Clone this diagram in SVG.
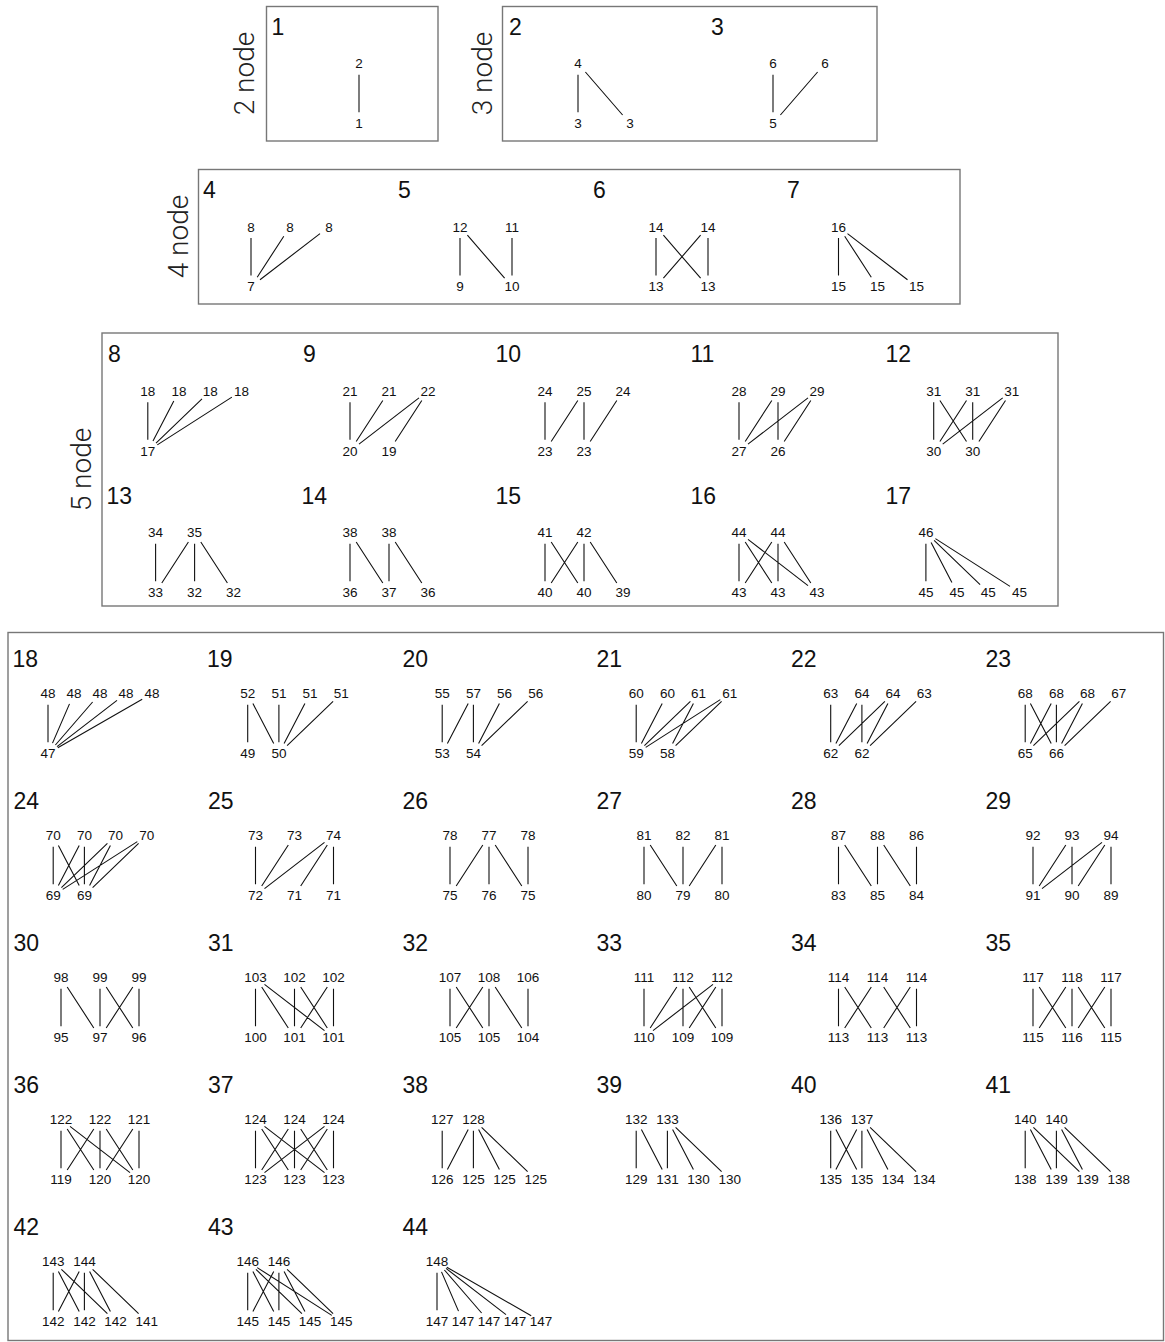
<svg xmlns="http://www.w3.org/2000/svg" width="1165" height="1342" viewBox="0 0 1165 1342">
<style>
.box{fill:none;stroke:#777;stroke-width:1.4}
.e path{fill:none;stroke:#111;stroke-width:1.1}
.h{font-family:"Liberation Sans",Arial,sans-serif;font-size:23px;fill:#111}
.n{font-family:"Liberation Sans",Arial,sans-serif;font-size:13.5px;fill:#111;text-anchor:middle}
.s{font-family:Roboto,"Liberation Sans",sans-serif;font-weight:300;font-size:28px;fill:#222;text-anchor:middle}
</style>
<rect width="1165" height="1342" fill="#fff"/>
<g id="frames">
<rect class="box" x="266.5" y="6.5" width="171.5" height="134.5"/>
<rect class="box" x="502.5" y="6.5" width="374.5" height="134.5"/>
<rect class="box" x="198.5" y="169.5" width="761.5" height="134.5"/>
<rect class="box" x="102" y="333" width="956" height="273"/>
<rect class="box" x="8" y="632.5" width="1155.5" height="708"/>
<text class="s" transform="translate(254,73.5) rotate(-90)">2 node</text>
<text class="s" transform="translate(492,73.5) rotate(-90)">3 node</text>
<text class="s" transform="translate(188,236.5) rotate(-90)">4 node</text>
<text class="s" transform="translate(91,469.5) rotate(-90)">5 node</text>
</g>
<g id="connectors" class="e">
<path transform="translate(359,63.5)" d="M0 11.3V48.7"/>
<path transform="translate(604,63.5)" d="M-26 11.3V48.7M-18.6 8.5L18.6 51.5"/>
<path transform="translate(799,63.5)" d="M-26 11.3V48.7M18.6 8.5L-18.6 51.5"/>
<path transform="translate(290,226.7)" d="M-39 11.3V48.7M-6.2 9.5L-32.8 50.5M30 6.9L-30 53.1"/>
<path transform="translate(486,226.7)" d="M-26 11.3V48.7M-18.6 8.5L18.6 51.5M26 11.3V48.7"/>
<path transform="translate(682,226.7)" d="M-26 11.3V48.7M-18.6 8.5L18.6 51.5M18.6 8.5L-18.6 51.5M26 11.3V48.7"/>
<path transform="translate(877.5,226.7)" d="M-39 11.3V48.7M-32.8 9.5L-6.2 50.5M-30 6.9L30 53.1"/>
<path transform="translate(194.6,391)" d="M-46.8 11.3V48.7M-20.8 10L-41.6 50M7.4 7.8L-38.6 52.2M37.3 6.1L-37.3 53.9"/>
<path transform="translate(389,391)" d="M-39 11.3V48.7M-6.2 9.5L-32.8 50.5M30 6.9L-30 53.1M32.8 9.5L6.2 50.5"/>
<path transform="translate(584,391)" d="M-39 11.3V48.7M-6.2 9.5L-32.8 50.5M0 11.3V48.7M32.8 9.5L6.2 50.5"/>
<path transform="translate(778,391)" d="M-39 11.3V48.7M-6.2 9.5L-32.8 50.5M0 11.3V48.7M30 6.9L-30 53.1M32.8 9.5L6.2 50.5"/>
<path transform="translate(972.7,391)" d="M-39 11.3V48.7M-32.8 9.5L-6.2 50.5M-6.2 9.5L-32.8 50.5M0 11.3V48.7M30 6.9L-30 53.1M32.8 9.5L6.2 50.5"/>
<path transform="translate(194.6,532.5)" d="M-39 11.3V48.7M-6.2 9.5L-32.8 50.5M0 11.3V48.7M6.2 9.5L32.8 50.5"/>
<path transform="translate(389,532.5)" d="M-39 11.3V48.7M-32.8 9.5L-6.2 50.5M0 11.3V48.7M6.2 9.5L32.8 50.5"/>
<path transform="translate(584,532.5)" d="M-39 11.3V48.7M-32.8 9.5L-6.2 50.5M-6.2 9.5L-32.8 50.5M0 11.3V48.7M6.2 9.5L32.8 50.5"/>
<path transform="translate(778,532.5)" d="M-39 11.3V48.7M-32.8 9.5L-6.2 50.5M-30 6.9L30 53.1M-6.2 9.5L-32.8 50.5M0 11.3V48.7M6.2 9.5L32.8 50.5"/>
<path transform="translate(972.7,532.5)" d="M-46.8 11.3V48.7M-41.6 10L-20.8 50M-38.6 7.8L7.4 52.2M-37.3 6.1L37.3 53.9"/>
<path transform="translate(100,693.5)" d="M-52 11.3V48.7M-30.5 10.4L-47.5 49.6M-7.4 8.5L-44.6 51.5M17 6.9L-43 53.1M42.2 5.7L-42.2 54.3"/>
<path transform="translate(294.5,693.5)" d="M-46.8 11.3V48.7M-41.6 10L-20.8 50M-15.6 11.3V48.7M10.4 10L-10.4 50M38.6 7.8L-7.4 52.2"/>
<path transform="translate(489,693.5)" d="M-46.8 11.3V48.7M-20.8 10L-41.6 50M-15.6 11.3V48.7M10.4 10L-10.4 50M38.6 7.8L-7.4 52.2"/>
<path transform="translate(683,693.5)" d="M-46.8 11.3V48.7M-20.8 10L-41.6 50M7.4 7.8L-38.6 52.2M10.4 10L-10.4 50M37.3 6.1L-37.3 53.9M38.6 7.8L-7.4 52.2"/>
<path transform="translate(877.5,693.5)" d="M-46.8 11.3V48.7M-20.8 10L-41.6 50M-15.6 11.3V48.7M7.4 7.8L-38.6 52.2M10.4 10L-10.4 50M38.6 7.8L-7.4 52.2"/>
<path transform="translate(1072,693.5)" d="M-46.8 11.3V48.7M-41.6 10L-20.8 50M-20.8 10L-41.6 50M-15.6 11.3V48.7M7.4 7.8L-38.6 52.2M10.4 10L-10.4 50M38.6 7.8L-7.4 52.2"/>
<path transform="translate(100,835.5)" d="M-46.8 11.3V48.7M-41.6 10L-20.8 50M-20.8 10L-41.6 50M-15.6 11.3V48.7M7.4 7.8L-38.6 52.2M10.4 10L-10.4 50M37.3 6.1L-37.3 53.9M38.6 7.8L-7.4 52.2"/>
<path transform="translate(294.5,835.5)" d="M-39 11.3V48.7M-6.2 9.5L-32.8 50.5M30 6.9L-30 53.1M32.8 9.5L6.2 50.5M39 11.3V48.7"/>
<path transform="translate(489,835.5)" d="M-39 11.3V48.7M-6.2 9.5L-32.8 50.5M0 11.3V48.7M6.2 9.5L32.8 50.5M39 11.3V48.7"/>
<path transform="translate(683,835.5)" d="M-39 11.3V48.7M-32.8 9.5L-6.2 50.5M0 11.3V48.7M32.8 9.5L6.2 50.5M39 11.3V48.7"/>
<path transform="translate(877.5,835.5)" d="M-39 11.3V48.7M-32.8 9.5L-6.2 50.5M0 11.3V48.7M6.2 9.5L32.8 50.5M39 11.3V48.7"/>
<path transform="translate(1072,835.5)" d="M-39 11.3V48.7M-6.2 9.5L-32.8 50.5M0 11.3V48.7M30 6.9L-30 53.1M32.8 9.5L6.2 50.5M39 11.3V48.7"/>
<path transform="translate(100,977.5)" d="M-39 11.3V48.7M-32.8 9.5L-6.2 50.5M0 11.3V48.7M6.2 9.5L32.8 50.5M32.8 9.5L6.2 50.5M39 11.3V48.7"/>
<path transform="translate(294.5,977.5)" d="M-39 11.3V48.7M-32.8 9.5L-6.2 50.5M-30 6.9L30 53.1M0 11.3V48.7M6.2 9.5L32.8 50.5M32.8 9.5L6.2 50.5M39 11.3V48.7"/>
<path transform="translate(489,977.5)" d="M-39 11.3V48.7M-32.8 9.5L-6.2 50.5M-6.2 9.5L-32.8 50.5M0 11.3V48.7M6.2 9.5L32.8 50.5M39 11.3V48.7"/>
<path transform="translate(683,977.5)" d="M-39 11.3V48.7M-6.2 9.5L-32.8 50.5M0 11.3V48.7M6.2 9.5L32.8 50.5M30 6.9L-30 53.1M32.8 9.5L6.2 50.5M39 11.3V48.7"/>
<path transform="translate(877.5,977.5)" d="M-39 11.3V48.7M-32.8 9.5L-6.2 50.5M-6.2 9.5L-32.8 50.5M6.2 9.5L32.8 50.5M32.8 9.5L6.2 50.5M39 11.3V48.7"/>
<path transform="translate(1072,977.5)" d="M-39 11.3V48.7M-32.8 9.5L-6.2 50.5M-6.2 9.5L-32.8 50.5M0 11.3V48.7M6.2 9.5L32.8 50.5M32.8 9.5L6.2 50.5M39 11.3V48.7"/>
<path transform="translate(100,1119.5)" d="M-39 11.3V48.7M-32.8 9.5L-6.2 50.5M-30 6.9L30 53.1M-6.2 9.5L-32.8 50.5M0 11.3V48.7M6.2 9.5L32.8 50.5M32.8 9.5L6.2 50.5M39 11.3V48.7"/>
<path transform="translate(294.5,1119.5)" d="M-39 11.3V48.7M-32.8 9.5L-6.2 50.5M-30 6.9L30 53.1M-6.2 9.5L-32.8 50.5M0 11.3V48.7M6.2 9.5L32.8 50.5M30 6.9L-30 53.1M32.8 9.5L6.2 50.5M39 11.3V48.7"/>
<path transform="translate(489,1119.5)" d="M-46.8 11.3V48.7M-20.8 10L-41.6 50M-15.6 11.3V48.7M-10.4 10L10.4 50M-7.4 7.8L38.6 52.2"/>
<path transform="translate(683,1119.5)" d="M-46.8 11.3V48.7M-41.6 10L-20.8 50M-15.6 11.3V48.7M-10.4 10L10.4 50M-7.4 7.8L38.6 52.2"/>
<path transform="translate(877.5,1119.5)" d="M-46.8 11.3V48.7M-41.6 10L-20.8 50M-20.8 10L-41.6 50M-15.6 11.3V48.7M-10.4 10L10.4 50M-7.4 7.8L38.6 52.2"/>
<path transform="translate(1072,1119.5)" d="M-46.8 11.3V48.7M-41.6 10L-20.8 50M-38.6 7.8L7.4 52.2M-15.6 11.3V48.7M-10.4 10L10.4 50M-7.4 7.8L38.6 52.2"/>
<path transform="translate(100,1261.5)" d="M-46.8 11.3V48.7M-41.6 10L-20.8 50M-38.6 7.8L7.4 52.2M-20.8 10L-41.6 50M-15.6 11.3V48.7M-10.4 10L10.4 50M-7.4 7.8L38.6 52.2"/>
<path transform="translate(294.5,1261.5)" d="M-46.8 11.3V48.7M-41.6 10L-20.8 50M-38.6 7.8L7.4 52.2M-37.3 6.1L37.3 53.9M-20.8 10L-41.6 50M-15.6 11.3V48.7M-10.4 10L10.4 50M-7.4 7.8L38.6 52.2"/>
<path transform="translate(489,1261.5)" d="M-52 11.3V48.7M-47.5 10.4L-30.5 49.6M-44.6 8.5L-7.4 51.5M-43 6.9L17 53.1M-42.2 5.7L42.2 54.3"/>
</g>
<g id="motif-1"><text class="h" x="271.5" y="35">1</text><g transform="translate(359,63.5)"><text class="n" x="0" y="4.8">2</text><text class="n" x="0" y="64.8">1</text></g></g>
<g id="motif-2"><text class="h" x="509" y="35">2</text><g transform="translate(604,63.5)"><text class="n" x="-26" y="4.8">4</text><text class="n" x="-26" y="64.8">3</text><text class="n" x="26" y="64.8">3</text></g></g>
<g id="motif-3"><text class="h" x="711" y="35">3</text><g transform="translate(799,63.5)"><text class="n" x="-26" y="4.8">6</text><text class="n" x="26" y="4.8">6</text><text class="n" x="-26" y="64.8">5</text></g></g>
<g id="motif-4"><text class="h" x="203" y="198">4</text><g transform="translate(290,226.7)"><text class="n" x="-39" y="4.8">8</text><text class="n" x="0" y="4.8">8</text><text class="n" x="39" y="4.8">8</text><text class="n" x="-39" y="64.8">7</text></g></g>
<g id="motif-5"><text class="h" x="398" y="198">5</text><g transform="translate(486,226.7)"><text class="n" x="-26" y="4.8">12</text><text class="n" x="26" y="4.8">11</text><text class="n" x="-26" y="64.8">9</text><text class="n" x="26" y="64.8">10</text></g></g>
<g id="motif-6"><text class="h" x="593" y="198">6</text><g transform="translate(682,226.7)"><text class="n" x="-26" y="4.8">14</text><text class="n" x="26" y="4.8">14</text><text class="n" x="-26" y="64.8">13</text><text class="n" x="26" y="64.8">13</text></g></g>
<g id="motif-7"><text class="h" x="787" y="198">7</text><g transform="translate(877.5,226.7)"><text class="n" x="-39" y="4.8">16</text><text class="n" x="-39" y="64.8">15</text><text class="n" x="0" y="64.8">15</text><text class="n" x="39" y="64.8">15</text></g></g>
<g id="motif-8"><text class="h" x="108" y="362.3">8</text><g transform="translate(194.6,391)"><text class="n" x="-46.8" y="4.8">18</text><text class="n" x="-15.6" y="4.8">18</text><text class="n" x="15.6" y="4.8">18</text><text class="n" x="46.8" y="4.8">18</text><text class="n" x="-46.8" y="64.8">17</text></g></g>
<g id="motif-9"><text class="h" x="303" y="362.3">9</text><g transform="translate(389,391)"><text class="n" x="-39" y="4.8">21</text><text class="n" x="0" y="4.8">21</text><text class="n" x="39" y="4.8">22</text><text class="n" x="-39" y="64.8">20</text><text class="n" x="0" y="64.8">19</text></g></g>
<g id="motif-10"><text class="h" x="495.5" y="362.3">10</text><g transform="translate(584,391)"><text class="n" x="-39" y="4.8">24</text><text class="n" x="0" y="4.8">25</text><text class="n" x="39" y="4.8">24</text><text class="n" x="-39" y="64.8">23</text><text class="n" x="0" y="64.8">23</text></g></g>
<g id="motif-11"><text class="h" x="690.5" y="362.3">11</text><g transform="translate(778,391)"><text class="n" x="-39" y="4.8">28</text><text class="n" x="0" y="4.8">29</text><text class="n" x="39" y="4.8">29</text><text class="n" x="-39" y="64.8">27</text><text class="n" x="0" y="64.8">26</text></g></g>
<g id="motif-12"><text class="h" x="885.5" y="362.3">12</text><g transform="translate(972.7,391)"><text class="n" x="-39" y="4.8">31</text><text class="n" x="0" y="4.8">31</text><text class="n" x="39" y="4.8">31</text><text class="n" x="-39" y="64.8">30</text><text class="n" x="0" y="64.8">30</text></g></g>
<g id="motif-13"><text class="h" x="106.5" y="504">13</text><g transform="translate(194.6,532.5)"><text class="n" x="-39" y="4.8">34</text><text class="n" x="0" y="4.8">35</text><text class="n" x="-39" y="64.8">33</text><text class="n" x="0" y="64.8">32</text><text class="n" x="39" y="64.8">32</text></g></g>
<g id="motif-14"><text class="h" x="301.5" y="504">14</text><g transform="translate(389,532.5)"><text class="n" x="-39" y="4.8">38</text><text class="n" x="0" y="4.8">38</text><text class="n" x="-39" y="64.8">36</text><text class="n" x="0" y="64.8">37</text><text class="n" x="39" y="64.8">36</text></g></g>
<g id="motif-15"><text class="h" x="495.5" y="504">15</text><g transform="translate(584,532.5)"><text class="n" x="-39" y="4.8">41</text><text class="n" x="0" y="4.8">42</text><text class="n" x="-39" y="64.8">40</text><text class="n" x="0" y="64.8">40</text><text class="n" x="39" y="64.8">39</text></g></g>
<g id="motif-16"><text class="h" x="690.5" y="504">16</text><g transform="translate(778,532.5)"><text class="n" x="-39" y="4.8">44</text><text class="n" x="0" y="4.8">44</text><text class="n" x="-39" y="64.8">43</text><text class="n" x="0" y="64.8">43</text><text class="n" x="39" y="64.8">43</text></g></g>
<g id="motif-17"><text class="h" x="885.5" y="504">17</text><g transform="translate(972.7,532.5)"><text class="n" x="-46.8" y="4.8">46</text><text class="n" x="-46.8" y="64.8">45</text><text class="n" x="-15.6" y="64.8">45</text><text class="n" x="15.6" y="64.8">45</text><text class="n" x="46.8" y="64.8">45</text></g></g>
<g id="motif-18"><text class="h" x="12.5" y="667">18</text><g transform="translate(100,693.5)"><text class="n" x="-52" y="4.8">48</text><text class="n" x="-26" y="4.8">48</text><text class="n" x="0" y="4.8">48</text><text class="n" x="26" y="4.8">48</text><text class="n" x="52" y="4.8">48</text><text class="n" x="-52" y="64.8">47</text></g></g>
<g id="motif-19"><text class="h" x="207" y="667">19</text><g transform="translate(294.5,693.5)"><text class="n" x="-46.8" y="4.8">52</text><text class="n" x="-15.6" y="4.8">51</text><text class="n" x="15.6" y="4.8">51</text><text class="n" x="46.8" y="4.8">51</text><text class="n" x="-46.8" y="64.8">49</text><text class="n" x="-15.6" y="64.8">50</text></g></g>
<g id="motif-20"><text class="h" x="402.5" y="667">20</text><g transform="translate(489,693.5)"><text class="n" x="-46.8" y="4.8">55</text><text class="n" x="-15.6" y="4.8">57</text><text class="n" x="15.6" y="4.8">56</text><text class="n" x="46.8" y="4.8">56</text><text class="n" x="-46.8" y="64.8">53</text><text class="n" x="-15.6" y="64.8">54</text></g></g>
<g id="motif-21"><text class="h" x="596.5" y="667">21</text><g transform="translate(683,693.5)"><text class="n" x="-46.8" y="4.8">60</text><text class="n" x="-15.6" y="4.8">60</text><text class="n" x="15.6" y="4.8">61</text><text class="n" x="46.8" y="4.8">61</text><text class="n" x="-46.8" y="64.8">59</text><text class="n" x="-15.6" y="64.8">58</text></g></g>
<g id="motif-22"><text class="h" x="791" y="667">22</text><g transform="translate(877.5,693.5)"><text class="n" x="-46.8" y="4.8">63</text><text class="n" x="-15.6" y="4.8">64</text><text class="n" x="15.6" y="4.8">64</text><text class="n" x="46.8" y="4.8">63</text><text class="n" x="-46.8" y="64.8">62</text><text class="n" x="-15.6" y="64.8">62</text></g></g>
<g id="motif-23"><text class="h" x="985.5" y="667">23</text><g transform="translate(1072,693.5)"><text class="n" x="-46.8" y="4.8">68</text><text class="n" x="-15.6" y="4.8">68</text><text class="n" x="15.6" y="4.8">68</text><text class="n" x="46.8" y="4.8">67</text><text class="n" x="-46.8" y="64.8">65</text><text class="n" x="-15.6" y="64.8">66</text></g></g>
<g id="motif-24"><text class="h" x="13.5" y="809">24</text><g transform="translate(100,835.5)"><text class="n" x="-46.8" y="4.8">70</text><text class="n" x="-15.6" y="4.8">70</text><text class="n" x="15.6" y="4.8">70</text><text class="n" x="46.8" y="4.8">70</text><text class="n" x="-46.8" y="64.8">69</text><text class="n" x="-15.6" y="64.8">69</text></g></g>
<g id="motif-25"><text class="h" x="208" y="809">25</text><g transform="translate(294.5,835.5)"><text class="n" x="-39" y="4.8">73</text><text class="n" x="0" y="4.8">73</text><text class="n" x="39" y="4.8">74</text><text class="n" x="-39" y="64.8">72</text><text class="n" x="0" y="64.8">71</text><text class="n" x="39" y="64.8">71</text></g></g>
<g id="motif-26"><text class="h" x="402.5" y="809">26</text><g transform="translate(489,835.5)"><text class="n" x="-39" y="4.8">78</text><text class="n" x="0" y="4.8">77</text><text class="n" x="39" y="4.8">78</text><text class="n" x="-39" y="64.8">75</text><text class="n" x="0" y="64.8">76</text><text class="n" x="39" y="64.8">75</text></g></g>
<g id="motif-27"><text class="h" x="596.5" y="809">27</text><g transform="translate(683,835.5)"><text class="n" x="-39" y="4.8">81</text><text class="n" x="0" y="4.8">82</text><text class="n" x="39" y="4.8">81</text><text class="n" x="-39" y="64.8">80</text><text class="n" x="0" y="64.8">79</text><text class="n" x="39" y="64.8">80</text></g></g>
<g id="motif-28"><text class="h" x="791" y="809">28</text><g transform="translate(877.5,835.5)"><text class="n" x="-39" y="4.8">87</text><text class="n" x="0" y="4.8">88</text><text class="n" x="39" y="4.8">86</text><text class="n" x="-39" y="64.8">83</text><text class="n" x="0" y="64.8">85</text><text class="n" x="39" y="64.8">84</text></g></g>
<g id="motif-29"><text class="h" x="985.5" y="809">29</text><g transform="translate(1072,835.5)"><text class="n" x="-39" y="4.8">92</text><text class="n" x="0" y="4.8">93</text><text class="n" x="39" y="4.8">94</text><text class="n" x="-39" y="64.8">91</text><text class="n" x="0" y="64.8">90</text><text class="n" x="39" y="64.8">89</text></g></g>
<g id="motif-30"><text class="h" x="13.5" y="951">30</text><g transform="translate(100,977.5)"><text class="n" x="-39" y="4.8">98</text><text class="n" x="0" y="4.8">99</text><text class="n" x="39" y="4.8">99</text><text class="n" x="-39" y="64.8">95</text><text class="n" x="0" y="64.8">97</text><text class="n" x="39" y="64.8">96</text></g></g>
<g id="motif-31"><text class="h" x="208" y="951">31</text><g transform="translate(294.5,977.5)"><text class="n" x="-39" y="4.8">103</text><text class="n" x="0" y="4.8">102</text><text class="n" x="39" y="4.8">102</text><text class="n" x="-39" y="64.8">100</text><text class="n" x="0" y="64.8">101</text><text class="n" x="39" y="64.8">101</text></g></g>
<g id="motif-32"><text class="h" x="402.5" y="951">32</text><g transform="translate(489,977.5)"><text class="n" x="-39" y="4.8">107</text><text class="n" x="0" y="4.8">108</text><text class="n" x="39" y="4.8">106</text><text class="n" x="-39" y="64.8">105</text><text class="n" x="0" y="64.8">105</text><text class="n" x="39" y="64.8">104</text></g></g>
<g id="motif-33"><text class="h" x="596.5" y="951">33</text><g transform="translate(683,977.5)"><text class="n" x="-39" y="4.8">111</text><text class="n" x="0" y="4.8">112</text><text class="n" x="39" y="4.8">112</text><text class="n" x="-39" y="64.8">110</text><text class="n" x="0" y="64.8">109</text><text class="n" x="39" y="64.8">109</text></g></g>
<g id="motif-34"><text class="h" x="791" y="951">34</text><g transform="translate(877.5,977.5)"><text class="n" x="-39" y="4.8">114</text><text class="n" x="0" y="4.8">114</text><text class="n" x="39" y="4.8">114</text><text class="n" x="-39" y="64.8">113</text><text class="n" x="0" y="64.8">113</text><text class="n" x="39" y="64.8">113</text></g></g>
<g id="motif-35"><text class="h" x="985.5" y="951">35</text><g transform="translate(1072,977.5)"><text class="n" x="-39" y="4.8">117</text><text class="n" x="0" y="4.8">118</text><text class="n" x="39" y="4.8">117</text><text class="n" x="-39" y="64.8">115</text><text class="n" x="0" y="64.8">116</text><text class="n" x="39" y="64.8">115</text></g></g>
<g id="motif-36"><text class="h" x="13.5" y="1093">36</text><g transform="translate(100,1119.5)"><text class="n" x="-39" y="4.8">122</text><text class="n" x="0" y="4.8">122</text><text class="n" x="39" y="4.8">121</text><text class="n" x="-39" y="64.8">119</text><text class="n" x="0" y="64.8">120</text><text class="n" x="39" y="64.8">120</text></g></g>
<g id="motif-37"><text class="h" x="208" y="1093">37</text><g transform="translate(294.5,1119.5)"><text class="n" x="-39" y="4.8">124</text><text class="n" x="0" y="4.8">124</text><text class="n" x="39" y="4.8">124</text><text class="n" x="-39" y="64.8">123</text><text class="n" x="0" y="64.8">123</text><text class="n" x="39" y="64.8">123</text></g></g>
<g id="motif-38"><text class="h" x="402.5" y="1093">38</text><g transform="translate(489,1119.5)"><text class="n" x="-46.8" y="4.8">127</text><text class="n" x="-15.6" y="4.8">128</text><text class="n" x="-46.8" y="64.8">126</text><text class="n" x="-15.6" y="64.8">125</text><text class="n" x="15.6" y="64.8">125</text><text class="n" x="46.8" y="64.8">125</text></g></g>
<g id="motif-39"><text class="h" x="596.5" y="1093">39</text><g transform="translate(683,1119.5)"><text class="n" x="-46.8" y="4.8">132</text><text class="n" x="-15.6" y="4.8">133</text><text class="n" x="-46.8" y="64.8">129</text><text class="n" x="-15.6" y="64.8">131</text><text class="n" x="15.6" y="64.8">130</text><text class="n" x="46.8" y="64.8">130</text></g></g>
<g id="motif-40"><text class="h" x="791" y="1093">40</text><g transform="translate(877.5,1119.5)"><text class="n" x="-46.8" y="4.8">136</text><text class="n" x="-15.6" y="4.8">137</text><text class="n" x="-46.8" y="64.8">135</text><text class="n" x="-15.6" y="64.8">135</text><text class="n" x="15.6" y="64.8">134</text><text class="n" x="46.8" y="64.8">134</text></g></g>
<g id="motif-41"><text class="h" x="985.5" y="1093">41</text><g transform="translate(1072,1119.5)"><text class="n" x="-46.8" y="4.8">140</text><text class="n" x="-15.6" y="4.8">140</text><text class="n" x="-46.8" y="64.8">138</text><text class="n" x="-15.6" y="64.8">139</text><text class="n" x="15.6" y="64.8">139</text><text class="n" x="46.8" y="64.8">138</text></g></g>
<g id="motif-42"><text class="h" x="13.5" y="1235">42</text><g transform="translate(100,1261.5)"><text class="n" x="-46.8" y="4.8">143</text><text class="n" x="-15.6" y="4.8">144</text><text class="n" x="-46.8" y="64.8">142</text><text class="n" x="-15.6" y="64.8">142</text><text class="n" x="15.6" y="64.8">142</text><text class="n" x="46.8" y="64.8">141</text></g></g>
<g id="motif-43"><text class="h" x="208" y="1235">43</text><g transform="translate(294.5,1261.5)"><text class="n" x="-46.8" y="4.8">146</text><text class="n" x="-15.6" y="4.8">146</text><text class="n" x="-46.8" y="64.8">145</text><text class="n" x="-15.6" y="64.8">145</text><text class="n" x="15.6" y="64.8">145</text><text class="n" x="46.8" y="64.8">145</text></g></g>
<g id="motif-44"><text class="h" x="402.5" y="1235">44</text><g transform="translate(489,1261.5)"><text class="n" x="-52" y="4.8">148</text><text class="n" x="-52" y="64.8">147</text><text class="n" x="-26" y="64.8">147</text><text class="n" x="0" y="64.8">147</text><text class="n" x="26" y="64.8">147</text><text class="n" x="52" y="64.8">147</text></g></g>
</svg>
